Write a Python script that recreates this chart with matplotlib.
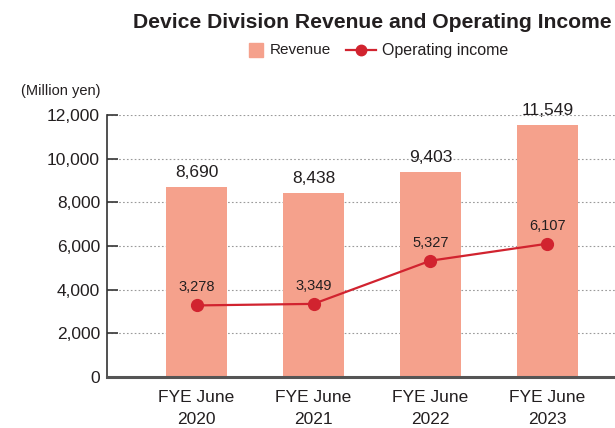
import matplotlib
matplotlib.use("Agg")
import matplotlib.pyplot as plt
from matplotlib.patches import Rectangle
from matplotlib.lines import Line2D

plt.rcParams['font.family'] = ['Liberation Sans', 'DejaVu Sans']

# data
categories = ["FYE June\n2020", "FYE June\n2021", "FYE June\n2022", "FYE June\n2023"]
revenue = [8690, 8438, 9403, 11549]
operating_income = [3278, 3349, 5327, 6107]
y_ticks = [0, 2000, 4000, 6000, 8000, 10000, 12000]

bar_color = "#F5A18C"
line_color = "#D1232F"
text_color = "#231F20"

fig = plt.figure(figsize=(6.15, 4.28), dpi=100)
ax = fig.add_axes([0.174, 0.1192, 0.826, 0.612])

x = list(range(len(categories)))

# bars + line
ax.bar(x, revenue, width=0.52, color=bar_color, zorder=2)
ax.plot(x, operating_income, color=line_color, linewidth=1.6, marker="o",
        markersize=8.5, zorder=3)

# value labels
for xi, v in zip(x, revenue):
    ax.annotate(f"{v:,}", (xi, v), xytext=(0, 5), textcoords="offset points",
                ha="center", va="bottom", fontsize=12.5, color=text_color)
for xi, v in zip(x, operating_income):
    ax.annotate(f"{v:,}", (xi, v), xytext=(0, 8), textcoords="offset points",
                ha="center", va="bottom", fontsize=10.5, color=text_color)

# axes styling
ax.set_xlim(-0.765, 3.577)
ax.set_ylim(0, 12000)
ax.set_yticks(y_ticks)
ax.set_yticklabels([f"{t:,}" for t in y_ticks], fontsize=12.5, color=text_color)
ax.set_xticks(x)
ax.set_xticklabels(categories, fontsize=12.5, color=text_color, linespacing=1.6)
ax.tick_params(axis="x", length=0, pad=9.5)
ax.tick_params(axis="y", direction="in", length=8, width=1.3, color="#444444", pad=5)

ax.yaxis.grid(True, color="#9A9A9A", linestyle=(0, (1.5, 2)), linewidth=0.8, zorder=1)
ax.set_axisbelow(True)
for s in ["top", "right"]:
    ax.spines[s].set_visible(False)
ax.spines["left"].set_color("#333333")
ax.spines["left"].set_linewidth(1.2)
ax.spines["bottom"].set_color("#555555")
ax.spines["bottom"].set_linewidth(2.2)

# title and unit
fig.text(133 / 615, 1 - 22.5 / 428, "Device Division Revenue and Operating Income",
         fontsize=15.2, fontweight="bold", color=text_color, ha="left", va="center")
fig.text(21 / 615, 1 - 91 / 428, "(Million yen)", fontsize=10.5, color=text_color,
         ha="left", va="center")

# legend
ly = 1 - 50 / 428
fig.add_artist(Rectangle((249 / 615, ly - 6.5 / 428), 14 / 615, 13 / 428,
                         transform=fig.transFigure, color=bar_color))
fig.text(270 / 615, ly, "Revenue", fontsize=11, color=text_color, ha="left", va="center")
fig.add_artist(Line2D([346 / 615, 376 / 615], [ly, ly], transform=fig.transFigure,
                      color=line_color, linewidth=1.6))
fig.add_artist(Line2D([361 / 615], [ly], transform=fig.transFigure, color=line_color,
                      marker="o", markersize=7.5))
fig.text(382 / 615, ly, "Operating income", fontsize=11.5, color=text_color,
         ha="left", va="center")

fig.savefig("out.png", dpi=100)
